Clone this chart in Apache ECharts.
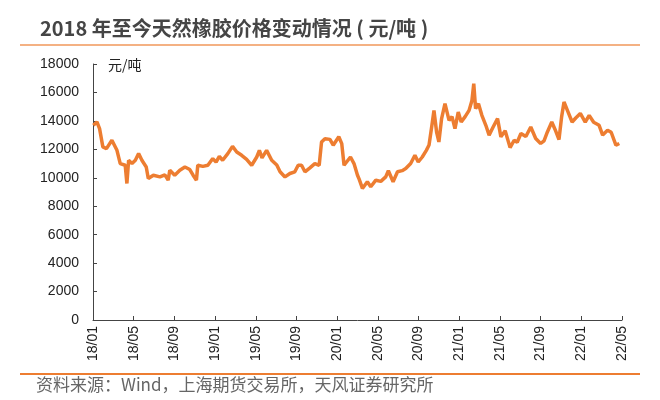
<!DOCTYPE html>
<html>
<head>
<meta charset="utf-8">
<script src="https://cdn.jsdelivr.net/npm/echarts@6/dist/echarts.min.js"></script>
<style>
  html, body { margin: 0; padding: 0; background: #fff; }
  #main { width: 660px; height: 400px; }
</style>
</head>
<body>
<div id="main"></div>
<script>
// 天然橡胶价格（元/吨），读图估计
var dates = [
  '2018-01-02','2018-01-13','2018-01-21','2018-01-31','2018-02-10','2018-02-25','2018-03-12','2018-03-22',
  '2018-04-06','2018-04-11','2018-04-16','2018-04-26','2018-05-06','2018-05-16','2018-05-26','2018-06-08',
  '2018-06-14','2018-06-29','2018-07-19','2018-08-03','2018-08-13','2018-08-18','2018-09-02','2018-09-17',
  '2018-10-02','2018-10-17','2018-10-27','2018-11-06','2018-11-10','2018-11-25','2018-12-10','2018-12-25',
  '2019-01-04','2019-01-14','2019-01-24','2019-02-08','2019-02-21','2019-03-05','2019-03-20','2019-04-04',
  '2019-04-19','2019-05-04','2019-05-12','2019-05-20','2019-06-03','2019-06-18','2019-07-03','2019-07-13',
  '2019-07-28','2019-08-12','2019-08-27','2019-09-06','2019-09-16','2019-09-26','2019-10-11','2019-10-26',
  '2019-11-08','2019-11-15','2019-11-25','2019-12-10','2019-12-20','2020-01-06','2020-01-15','2020-01-22',
  '2020-02-10','2020-02-20','2020-03-01','2020-03-06','2020-03-16','2020-03-31','2020-04-10','2020-04-25',
  '2020-05-10','2020-05-25','2020-06-02','2020-06-16','2020-06-29','2020-07-13','2020-07-24','2020-08-08',
  '2020-08-21','2020-08-31','2020-09-12','2020-09-24','2020-10-02','2020-10-10','2020-10-17','2020-10-25',
  '2020-11-01','2020-11-09','2020-11-19','2020-12-01','2020-12-10','2020-12-19','2020-12-29','2021-01-07',
  '2021-01-19','2021-01-31','2021-02-08','2021-02-13','2021-02-18','2021-02-26','2021-03-08','2021-03-20',
  '2021-03-30','2021-04-11','2021-04-24','2021-05-04','2021-05-17','2021-06-01','2021-06-13','2021-06-22',
  '2021-07-03','2021-07-18','2021-08-02','2021-08-17','2021-09-01','2021-09-11','2021-09-21','2021-10-04',
  '2021-10-14','2021-10-26','2021-11-03','2021-11-10','2021-11-20','2021-12-04','2021-12-15','2021-12-29',
  '2022-01-13','2022-01-25','2022-02-07','2022-02-22','2022-03-04','2022-03-19','2022-03-30','2022-04-13',
  '2022-04-23'
];
var prices = [
  13690,13920,13460,12170,12050,12640,11930,11000,
  10880,9600,11230,11000,11230,11700,11230,10760,
  9950,10180,10060,10200,9830,10530,10180,10530,
  10760,10580,10180,9830,10880,10800,10880,11350,
  11100,11510,11230,11700,12210,11810,11580,11300,
  10880,11460,11930,11400,11930,11230,10900,10420,
  10060,10300,10420,10880,10880,10420,10700,11000,
  10880,12520,12750,12700,12290,12880,12400,10880,
  11460,11000,10180,9900,9250,9720,9370,9830,
  9750,10060,10490,9720,10420,10500,10650,11000,
  11580,11110,11460,11930,12300,13570,14740,13220,
  12520,14160,15210,14040,14300,13460,14620,13920,
  14300,14740,15440,16620,14860,15210,14390,13690,
  13000,13570,14160,12880,13300,12120,12640,12500,
  13110,12900,13570,12760,12410,12600,13220,13920,
  13400,12690,14300,15330,14740,13920,14200,14520,
  13920,14390,13900,13690,13000,13340,13200,12290,
  12410
];
var yTicks = [0, 2000, 4000, 6000, 8000, 10000, 12000, 14000, 16000, 18000];

// 换算为自 2018/01 起的月份序号（含月内小数）
function monthIndex(s) {
  var p = s.split('-');
  var y = +p[0], m = +p[1], d = +p[2];
  var dim = new Date(y, m, 0).getDate();
  return (y - 2018) * 12 + (m - 1) + (d - 1) / dim;
}
var seriesData = dates.map(function (d, i) { return [monthIndex(d), prices[i]]; });

var chart = echarts.init(document.getElementById('main'));
chart.setOption({
  backgroundColor: '#fff',
  animation: false,
  title: {
    text: '2018 年至今天然橡胶价格变动情况 ( 元/吨 )',
    left: 35, top: 13,
    textStyle: { fontSize: 20, fontWeight: 'bold', color: '#454545', fontFamily: 'Noto Sans CJK SC' }
  },
  graphic: [
    { type: 'line', shape: { x1: 20, y1: 45, x2: 640, y2: 45 }, style: { stroke: '#F4B183', lineWidth: 2 } },
    { type: 'line', shape: { x1: 20, y1: 374, x2: 640, y2: 374 }, style: { stroke: '#ED7D31', lineWidth: 2 } },
    { type: 'text', left: 36, top: 376,
      style: { text: '资料来源：Wind，上海期货交易所，天风证券研究所', fontSize: 17, fill: '#666', fontFamily: 'Noto Sans CJK SC' } },
    { type: 'text', left: 108, top: 58,
      style: { text: '元/吨', fontSize: 14, fill: '#222', fontFamily: 'Noto Sans CJK SC' } }
  ],
  grid: { left: 93, right: 38, top: 64, bottom: 80 },
  xAxis: {
    type: 'value',
    min: 0, max: 52, interval: 4,
    splitLine: { show: false },
    axisLine: { lineStyle: { color: '#444', width: 1 } },
    axisTick: { inside: true, length: 4, lineStyle: { color: '#444' } },
    axisLabel: {
      rotate: 90, margin: 6, color: '#222', fontSize: 14, fontFamily: 'Liberation Sans',
      formatter: function (v) {
        var y = 18 + Math.floor(v / 12), m = v % 12 + 1;
        return y + '/' + (m < 10 ? '0' + m : m);
      }
    }
  },
  yAxis: {
    type: 'value',
    min: yTicks[0], max: yTicks[yTicks.length - 1], interval: 2000,
    splitLine: { show: false },
    axisLine: { show: true, lineStyle: { color: '#444', width: 1 } },
    axisTick: { show: true, inside: true, length: 4, lineStyle: { color: '#444' } },
    axisLabel: {
      color: '#222', fontSize: 14, margin: 14, fontFamily: 'Liberation Sans',
      formatter: function (v) { return String(v); }
    }
  },
  series: [{
    type: 'line',
    data: seriesData,
    showSymbol: false,
    lineStyle: { color: '#ED7D31', width: 3.5 },
    z: 3
  }]
});
</script>
</body>
</html>
